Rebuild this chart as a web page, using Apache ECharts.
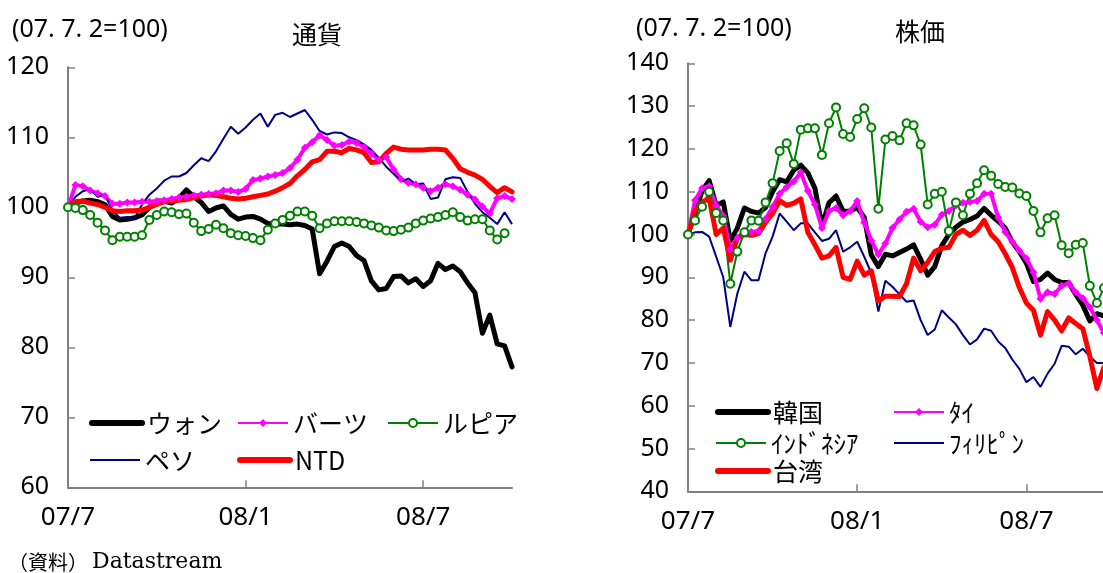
<!DOCTYPE html>
<html>
<head>
<meta charset="utf-8">
<script src="https://cdn.jsdelivr.net/npm/echarts@6/dist/echarts.min.js"></script>
<style>
  html, body { margin: 0; padding: 0; background: #fff; }
  #chart { width: 1103px; height: 573px; }
</style>
</head>
<body>
<div id="chart"></div>
<script>
// x positions: months elapsed since July 2007, sampled every quarter month
const months = Array.from({ length: 61 }, (_, i) => i * 0.25);
const xTickLabels = ['07/7', '08/1', '08/7'];
const xTickValues = [0, 6, 12];

// ---- 通貨 (07.7.2 = 100) ----
const wonL = [100,100.6,100.9,101,100.8,100.4,98.7,98.2,98.3,98.5, 98.9,100,100.9,100.9,100.6,101.3,102.5,101.5,100.7,99.4, 99.9,100.2,99,98.3,98.6,98.7,98.3,97.7,97.6,97.6, 97.5,97.6,97.4,96.9,90.5,92.3,94.4,94.9,94.4,93.1, 92.4,89.5,88.2,88.4,90.1,90.2,89.2,89.8,88.7,89.5, 92,91.1,91.6,90.8,89.2,87.8,82,84.6,80.5,80.2, 77.2];
const bahtL = [100,103.2,103,102.4,102,101.6,100.5,100.5,100.7,100.7, 100.8,100.8,100.9,101,101.2,101.4,101.5,101.7,101.8,101.9, 102,102.4,102.4,102.2,102.6,103.9,104.1,104.4,104.6,104.9, 105.6,106.8,108.5,109.3,110.3,109.6,108.8,108.9,109.4,109.2, 108.6,107.7,106.8,107.2,105.4,104,103.5,103.3,102.8,102.3, 102.8,103.3,103,102.5,101.8,101.1,100.1,99.1,101.3,101.6, 101.2];
const rupiahL = [100,99.9,99.6,98.9,97.8,96.7,95.3,95.8,95.8,95.8, 96,98.2,98.9,99.4,99.3,99,99.1,97.8,96.6,96.9, 97.5,97,96.3,96,95.9,95.6,95.3,96.8,97.7,98.2, 98.8,99.4,99.4,98.8,97,97.7,98,98,98,97.9, 97.7,97.4,97.1,96.7,96.6,96.8,97.1,97.7,98.1,98.4, 98.6,98.9,99.3,98.6,98.1,98.3,98.3,96.7,95.4,96.3, null];
const pesoL = [100,101.5,102.3,102.6,101.5,101.8,99.5,98.5,98.6,98.4, 100.4,101.8,102.7,103.8,104.4,104.4,104.9,106,107,106.6, 108,109.8,111.5,110.5,111.4,112.5,113.4,111.5,113.2,113.5, 112.9,113.4,113.9,112.5,110.9,110.4,110.7,110.6,110,109.6, 109,108.2,107.1,105.8,104.8,103.7,104.1,103.3,103.4,101.2, 101.4,104,104.3,104.2,102.2,100.5,99.3,98.5,97.6,99.3, 97.6];
const ntdL = [100,100.8,100.9,100.6,100.4,100,99.5,99.4,99.5,99.5, 99.6,100,100.4,100.8,100.9,101,101.1,101.4,101.6,101.8, 101.7,101.5,101.3,101.2,101.3,101.5,101.7,101.9,102.3,102.8, 103.4,104.5,105.4,106.5,106.8,108,108,107.8,108.4,108.2, 107.8,106.4,106.5,107.7,108.6,108.3,108.2,108.2,108.2,108.3, 108.3,108.2,107,105.5,105,104.6,104,103,102.1,102.8, 102.2];

// ---- 株価 (07.7.2 = 100) ----
const koreaR = [100,104.9,110.2,112.6,106.8,107.6,98.5,101.5,106.2,105.4, 105,106.3,110,112.8,112.3,115,116.2,114.4,110.8,102, 107.4,109,105.4,105.5,106.3,104,95.2,92.5,95.4,95, 95.8,96.6,97.6,94.2,90.5,92.5,97.4,100,101.7,102.9, 103.5,104.3,106.1,104.5,103.1,101.5,98.2,96,93.3,89, 89.5,91,89.5,88.8,88.8,86,83.5,79.8,81.5,81];
const thaiR = [100,108,110.8,111.3,106.8,104.3,96.5,99.2,100.8,100.6, 100.8,103.6,106.4,109.5,111.1,112.4,114.5,110.2,107,101.5, 105.5,106.2,104.5,105.5,107.8,102.8,98.6,95.3,97.9,101.5, 103.5,105.3,106,103,101.7,102.3,104.6,105.5,106.8,107.4, 107.6,107.8,109.5,109.5,104,100.6,98.3,96.2,94.4,91.2, 85,86.5,86.1,88,88.6,86.5,85.1,83,80,77];
const indoR = [100,103.3,106.5,110,105,103.3,88.5,96,100.5,103.3, 103.2,107.5,112,119.5,121.3,116.5,124.5,124.8,124.8,118.6, 126,129.7,123.5,122.8,127,129.5,125,106,122.2,123, 122,126,125.5,121,107,109.5,110,100.8,107.5,104.5, 109.5,112,115,113.7,111.8,111.1,111,109.6,109,105.5, 100.5,103.8,104.5,97.5,95.6,97.6,98,88,84,87.5];
const philR = [100,100.5,100.6,99.5,94.8,90,78.4,86.2,91.3,89.3, 89.3,95.6,99.5,104.9,103,101,102.6,102.6,100.5,98.5, 99,101,96,97,98.3,94.8,91,82,89.2,87.8, 86,84.3,84.6,80,76.5,77.8,82.3,80.6,79,76.5, 74.3,75.5,78,77.5,75,73.5,70.8,68.6,65.5,66.7, 64.4,67.5,69.8,74,73.8,72,73.3,71.5,70,70];
const taiwanR = [100,105.7,107.5,108.5,100,101.5,94,99.2,100,99.8, 100.2,102.8,104.9,107.9,106.8,107.3,108.3,100.5,97.6,94.5, 95,97,90,89.5,93.8,90.5,91.5,84.5,85.6,85.6, 85.5,88.5,94.5,91.5,93.5,96,96.8,97,100,101, 99.8,101,103.3,100,98.3,95.5,92.3,87.6,84,82.3, 76.5,82,80,77.5,80.5,79.2,78,71.5,64,69];

const NUM_FONT = "'Noto Sans', 'Noto Sans CJK JP', sans-serif";
const FONT = "'Noto Sans CJK JP', sans-serif";
const AXIS_GRAY = '#808080';

const pairs = arr => arr.map((v, i) => [months[i], v]);

// line look per series kind
function thick(color) {
  return { symbol: 'none', lineStyle: { color, width: 5, cap: 'round', join: 'round' }, itemStyle: { color } };
}
function thin(color) {
  return { symbol: 'none', lineStyle: { color, width: 2 }, itemStyle: { color } };
}
function diamonds(color) {
  return { symbol: 'diamond', symbolSize: 8, showSymbol: true, lineStyle: { color, width: 4 }, itemStyle: { color } };
}
function rings(color) {
  return { symbol: 'emptyCircle', symbolSize: 8, showSymbol: true, lineStyle: { color, width: 2 },
           itemStyle: { color, borderColor: color, borderWidth: 2 } };
}

function line(name, gridIndex, data, look) {
  return Object.assign({ type: 'line', name, xAxisIndex: gridIndex, yAxisIndex: gridIndex,
    data: pairs(data), animation: false, silent: true, connectNulls: false }, look);
}

function xAxis(gridIndex) {
  return {
    type: 'value', gridIndex, min: 0, max: 15,
    axisLine: { show: true, lineStyle: { color: AXIS_GRAY, width: 2 } },
    axisTick: { show: true, inside: true, length: 7, customValues: xTickValues, lineStyle: { color: AXIS_GRAY, width: 1.5 } },
    axisLabel: { customValues: xTickValues, formatter: v => xTickLabels[xTickValues.indexOf(v)] || '',
                 fontFamily: NUM_FONT, fontSize: 26, color: '#000', margin: 17 },
    splitLine: { show: false }
  };
}
function yAxis(gridIndex, min, max) {
  return {
    type: 'value', gridIndex, min, max, interval: 10,
    axisLine: { show: true, lineStyle: { color: AXIS_GRAY, width: 2 } },
    axisTick: { show: true, inside: true, length: 7, lineStyle: { color: AXIS_GRAY, width: 1.5 } },
    axisLabel: { fontFamily: NUM_FONT, fontSize: 25, color: '#000', margin: 19 },
    splitLine: { show: false }
  };
}

// one legend block per entry so the columns line up
function legendItem(name, left, centerY, kind) {
  const entry = { name };
  if (kind === 'thick') { entry.lineStyle = { width: 6 }; entry.itemStyle = { opacity: 0 }; }
  if (kind === 'thin') { entry.lineStyle = { width: 2 }; entry.itemStyle = { opacity: 0 }; }
  if (kind === 'mark') { entry.lineStyle = { width: 2 }; }
  return {
    data: [entry], left, top: centerY - 13, padding: 0, selectedMode: false,
    itemWidth: 50, itemHeight: 10,
    textStyle: { fontFamily: FONT, fontSize: 25, lineHeight: 26, color: '#000' }
  };
}

function label(text, x, y, size, align, family) {
  return { type: 'text', x, y, silent: true,
    style: { text, fontFamily: family || FONT, fontSize: size, fill: '#000', align: align || 'left', verticalAlign: 'middle' } };
}

const option = {
  backgroundColor: '#fff',
  animation: false,
  grid: [
    { left: 68, top: 67.3, width: 444, height: 420, outerBoundsMode: 'none' },
    { left: 688, top: 63.3, width: 423, height: 428, outerBoundsMode: 'none' }
  ],
  xAxis: [xAxis(0), xAxis(1)],
  yAxis: [yAxis(0, 60, 120), yAxis(1, 40, 140)],
  legend: [
    legendItem('ウォン', 89, 423, 'thick'),
    legendItem('バーツ', 237, 423, 'mark'),
    legendItem('ルピア', 387, 423, 'mark'),
    legendItem('ペソ', 89, 460, 'thin'),
    legendItem('NTD', 237, 460, 'thick'),
    legendItem('韓国', 715, 412, 'thick'),
    legendItem('ﾀｲ', 893, 412, 'mark'),
    legendItem('ｲﾝﾄﾞﾈｼｱ', 715, 443, 'mark'),
    legendItem('ﾌｨﾘﾋﾟﾝ', 893, 443, 'thin'),
    legendItem('台湾', 715, 471, 'thick')
  ],
  series: [
    line('ウォン', 0, wonL, thick('#000000')),
    line('バーツ', 0, bahtL, diamonds('#ff00ff')),
    line('ルピア', 0, rupiahL, rings('#008000')),
    line('ペソ', 0, pesoL, thin('#000080')),
    line('NTD', 0, ntdL, thick('#ff0000')),
    line('韓国', 1, koreaR, thick('#000000')),
    line('ﾀｲ', 1, thaiR, diamonds('#ff00ff')),
    line('ｲﾝﾄﾞﾈｼｱ', 1, indoR, rings('#008000')),
    line('ﾌｨﾘﾋﾟﾝ', 1, philR, thin('#000080')),
    line('台湾', 1, taiwanR, thick('#ff0000'))
  ],
  graphic: [
    label('(07. 7. 2=100)', 12, 30, 25, 'left', NUM_FONT),
    label('通貨', 317, 34, 25, 'center'),
    label('(07. 7. 2=100)', 636, 29, 25, 'left', NUM_FONT),
    label('株価', 920, 31, 25, 'center'),
    label('（資料）', 8, 562, 20, 'left', "'Noto Sans CJK JP', sans-serif"),
    label('Datastream', 92, 562, 22, 'left', "'DejaVu Serif', 'Liberation Serif', serif")
  ]
};

const chart = echarts.init(document.getElementById('chart'), null, { renderer: 'canvas' });
chart.setOption(option);
</script>
</body>
</html>
